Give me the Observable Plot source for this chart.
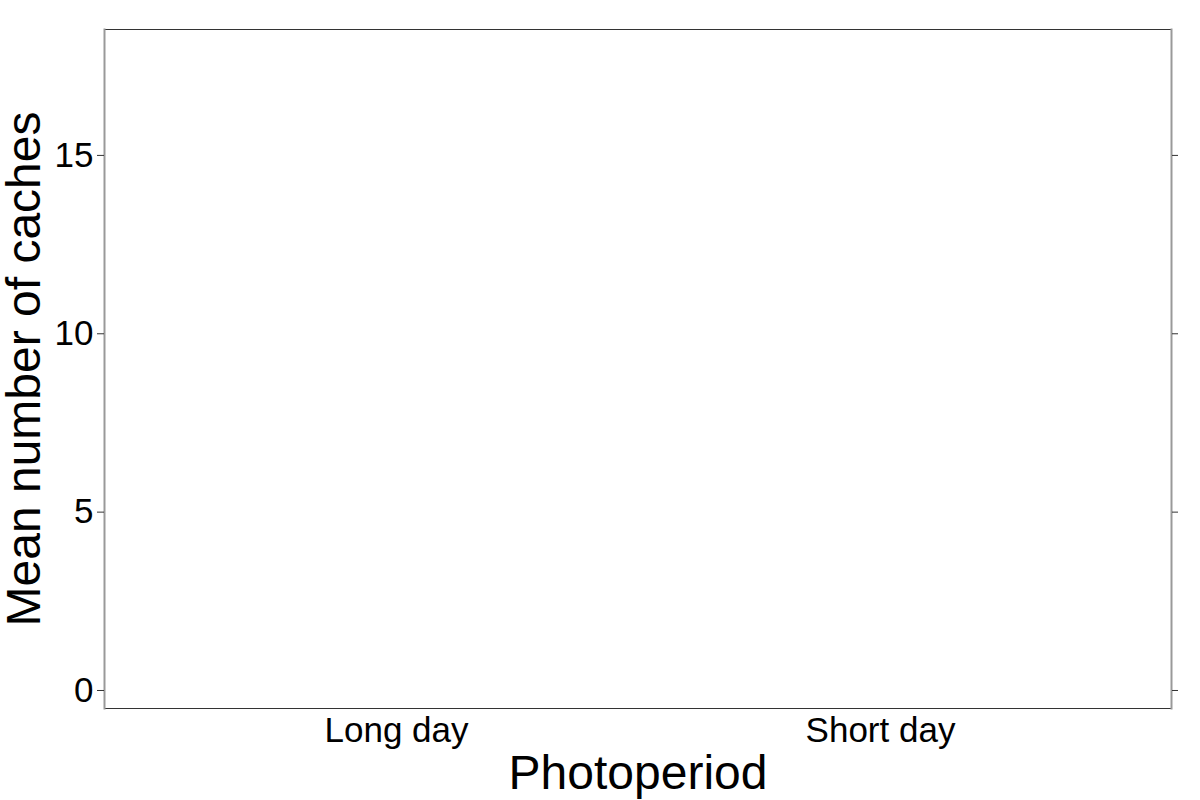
<!DOCTYPE html>
<html>
<head>
<meta charset="utf-8">
<script src="https://cdn.jsdelivr.net/npm/d3@7"></script>
<script src="https://cdn.jsdelivr.net/npm/@observablehq/plot@0.6"></script>
<style>
  html, body { margin: 0; padding: 0; background: #fff; }
  #chart { width: 1200px; height: 800px; }
</style>
</head>
<body>
<div id="chart"></div>
<script>
// Data (the reference shows an empty panel: no bars drawn)
const categories = ["Long day", "Short day"];
const yTicks = [0, 5, 10, 15];
const yDomain = [-0.505, 18.53];
const xTitle = "Photoperiod";
const yTitle = "Mean number of caches";

const font = "'Liberation Sans', Arial, Helvetica, sans-serif";

const chart = Plot.plot({
  width: 1200,
  height: 800,
  marginLeft: 104,
  marginRight: 29,
  marginTop: 29,
  marginBottom: 92,
  style: { fontFamily: font, color: "#000", background: "#fff" },
  x: { type: "point", domain: categories, padding: 0.6 },
  y: { domain: yDomain },
  marks: [
    Plot.frame({ stroke: "#333", strokeWidth: 1 }),
    Plot.frame({ anchor: "left", stroke: "#999", strokeWidth: 2 }),
    Plot.frame({ anchor: "right", stroke: "#999", strokeWidth: 2 }),
    Plot.axisY({ ticks: yTicks, tickSize: 7, tickPadding: 4, fontSize: 35, stroke: "#333", fill: "#000", label: null }),
    Plot.axisY({ anchor: "right", ticks: yTicks, tickSize: 6, tickFormat: () => "", stroke: "#333", label: null }),
    Plot.axisX({ tickSize: 0, tickPadding: 9, fontSize: 35, fill: "#000", label: null }),
    Plot.text([xTitle], { frameAnchor: "bottom", text: d => d, fontSize: 48, lineAnchor: "bottom", textAnchor: "middle", dy: 80, fill: "#000" }),
    Plot.text([yTitle], { frameAnchor: "left", text: d => d, fontSize: 48, rotate: -90, lineAnchor: "middle", textAnchor: "middle", dx: -80, fill: "#000" })
  ]
});
document.getElementById("chart").appendChild(chart);
</script>
</body>
</html>
